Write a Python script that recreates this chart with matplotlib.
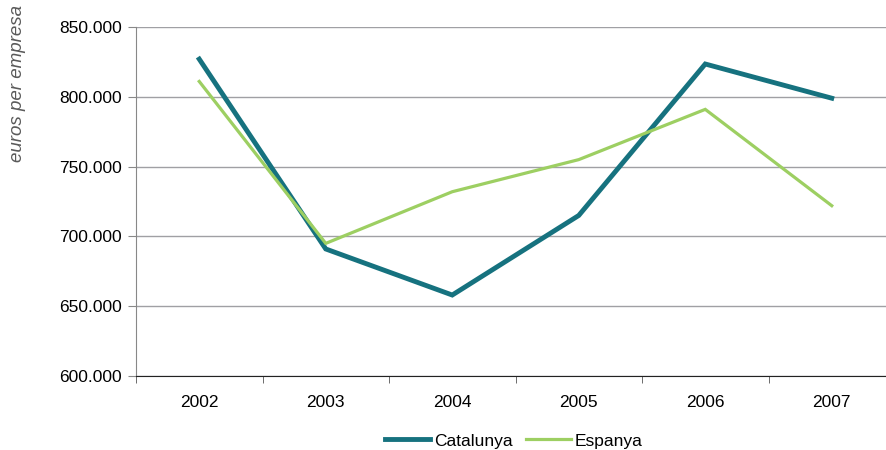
import matplotlib
matplotlib.use("Agg")
import matplotlib.pyplot as plt
from matplotlib.ticker import FuncFormatter, FixedLocator

plt.rcParams['font.family'] = ['Liberation Sans', 'DejaVu Sans']

years = ["2002", "2003", "2004", "2005", "2006", "2007"]
catalunya = [827000, 691000, 658000, 715000, 823500, 799000]
espanya = [811000, 695000, 732000, 755000, 791000, 722000]

fig = plt.figure(figsize=(8.86, 4.5), dpi=100)
ax = fig.add_axes([136/886, 1-376/450, (895-136)/886, (376-27)/450])

x = list(range(len(years)))
ax.plot(x, catalunya, color='#16727f', lw=3.5, label='Catalunya', solid_joinstyle='miter')
ax.plot(x, espanya, color='#9dcf62', lw=2.3, label='Espanya', solid_joinstyle='miter')

ax.set_xlim(-0.5, len(years) - 0.5)
ax.set_ylim(600000, 850000)
ax.set_yticks([600000, 650000, 700000, 750000, 800000, 850000])
ax.yaxis.set_major_formatter(FuncFormatter(lambda v, p: f"{int(v):,}".replace(",", ".")))
ax.set_xticks(x)
ax.set_xticklabels(years)
ax.xaxis.set_minor_locator(FixedLocator([i - 0.5 for i in range(len(years) + 1)]))
ax.tick_params(axis='x', which='major', length=0, pad=14, labelsize=12.5)
ax.tick_params(axis='x', which='minor', length=5, direction='out', color='#555555')
ax.tick_params(axis='y', length=6, direction='out', color='#888888', labelsize=12.5, pad=4)

ax.grid(axis='y', color='#a0a0a4', lw=1.0)
ax.set_axisbelow(True)
for s in ['top', 'right']:
    ax.spines[s].set_visible(False)
ax.spines['left'].set_color('#888888')
ax.spines['bottom'].set_color('#222222')

fig.text(18/886, 1-83/450, 'euros per empresa', rotation=90, style='italic',
         color='#5a5a5a', fontsize=13.5, ha='center', va='center')

fig.legend(loc='center', bbox_to_anchor=(514/886, 1-441/450), ncol=2, frameon=False,
           fontsize=12.5, handlelength=2.6, columnspacing=0.8, handletextpad=0.2)

fig.savefig('out.png', dpi=100)
